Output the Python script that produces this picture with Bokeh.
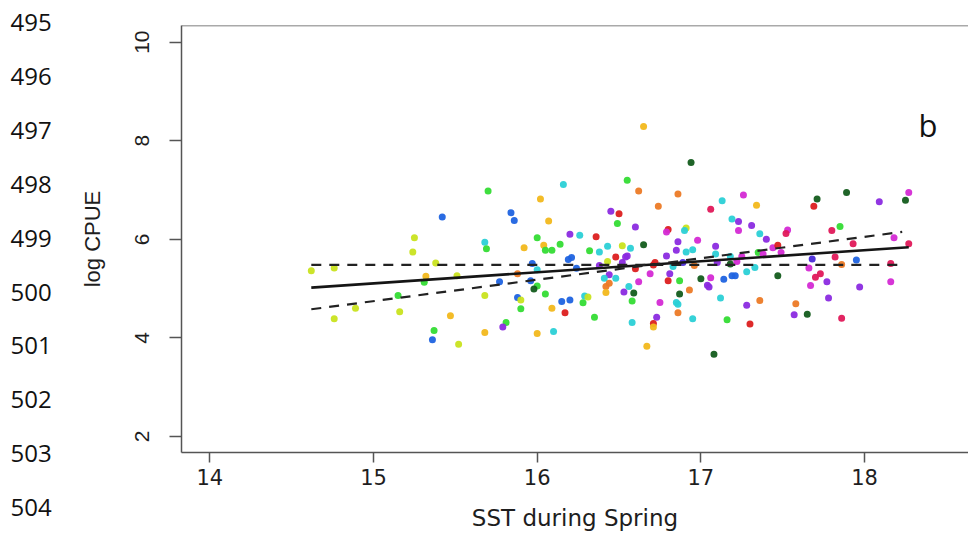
from bokeh.plotting import figure
from bokeh.layouts import row
from bokeh.models import Range1d, Label, Span, FixedTicker, ColumnDataSource
from bokeh.embed import file_html
from bokeh.resources import INLINE
from bokeh.core.properties import value

# ---------------- data ----------------
sst = [
    14.62, 14.76, 15.25, 15.24, 15.42, 15.38, 15.32, 15.31, 15.51, 15.15,
    14.89, 14.76, 15.16, 15.47, 15.37, 15.36, 15.52,
    15.70, 16.16, 16.02, 15.84, 15.86, 16.07, 16.45, 16.50, 16.49, 16.55,
    15.68, 15.69, 16.00, 15.92, 16.04, 16.05, 16.09, 16.14, 16.20, 16.26,
    16.36, 16.21, 16.19, 16.32, 16.38, 16.43, 16.52, 16.48, 16.43, 16.38,
    16.52, 16.54, 16.44, 16.41, 16.48, 16.44, 16.42, 16.42, 16.53, 15.97,
    15.88, 16.00, 15.77, 15.96, 16.00, 15.98, 16.24, 15.68, 15.88, 15.90,
    16.05, 15.90, 16.09, 16.15, 16.20, 16.29, 16.31, 16.28, 16.17, 16.35,
    15.81, 15.79, 15.68, 16.00, 16.10,
    16.65, 16.94, 16.62, 16.86, 16.74, 17.13, 17.26, 17.34, 17.06, 16.60,
    17.19, 17.23, 17.31, 17.23, 17.36, 17.40, 16.80, 16.79, 16.91, 16.90,
    16.57, 16.65, 16.86, 16.98, 16.85, 16.91, 16.95, 16.55, 16.79, 17.09,
    17.09, 17.18, 16.60, 16.72, 16.71, 16.83, 16.89, 16.96, 17.10, 17.18,
    17.35, 17.38, 17.44, 17.47, 17.49, 17.25, 17.22, 17.53, 17.52, 16.69,
    16.81, 16.80, 16.87, 17.00, 17.06, 17.04, 17.05, 17.14, 17.19, 17.21,
    17.28, 17.33, 17.47, 16.62, 16.56, 16.59, 16.58, 16.75, 16.87, 16.93,
    16.85, 16.86, 17.12, 17.28, 17.36, 16.73, 16.86, 16.95, 17.16, 16.58,
    16.71, 16.71, 17.30, 16.67, 17.08,
    17.71, 17.89, 17.69, 18.09, 18.27, 18.25, 17.80, 17.85, 17.93, 18.18,
    18.27, 17.68, 17.82, 17.95, 17.86, 18.16, 17.66, 17.73, 17.70, 17.77,
    17.67, 17.97, 18.16, 17.78, 17.58, 17.57, 17.65, 17.86,
]
log_cpue = [
    5.36, 5.42, 6.03, 5.74, 6.45, 5.52, 5.25, 5.13, 5.26, 4.86,
    4.60, 4.39, 4.53, 4.45, 4.15, 3.96, 3.87,
    6.98, 7.11, 6.82, 6.54, 6.38, 6.37, 6.57, 6.52, 6.32, 7.20,
    5.94, 5.81, 6.03, 5.83, 5.88, 5.78, 5.78, 5.90, 6.10, 6.08,
    6.05, 5.63, 5.59, 5.77, 5.74, 5.86, 5.87, 5.64, 5.55, 5.47,
    5.53, 5.64, 5.28, 5.21, 5.21, 5.11, 5.04, 4.92, 4.93, 5.51,
    5.30, 5.38, 5.14, 5.16, 5.05, 4.99, 5.41, 4.86, 4.82, 4.77,
    4.89, 4.59, 4.60, 4.74, 4.77, 4.85, 4.83, 4.71, 4.51, 4.42,
    4.31, 4.22, 4.11, 4.09, 4.13,
    8.29, 7.56, 6.98, 6.92, 6.67, 6.78, 6.90, 6.69, 6.61, 6.25,
    6.41, 6.36, 6.28, 6.18, 6.11, 6.00, 6.20, 6.15, 6.23, 6.18,
    5.82, 5.89, 5.95, 5.98, 5.78, 5.74, 5.79, 5.66, 5.66, 5.86,
    5.70, 5.65, 5.40, 5.53, 5.48, 5.45, 5.53, 5.47, 5.53, 5.50,
    5.73, 5.70, 5.83, 5.88, 5.73, 5.65, 5.55, 6.19, 6.12, 5.30,
    5.30, 5.16, 5.16, 5.20, 5.22, 5.07, 5.03, 5.19, 5.26, 5.26,
    5.34, 5.43, 5.26, 5.14, 5.04, 4.91, 4.75, 4.72, 4.89, 4.97,
    4.72, 4.68, 4.81, 4.66, 4.76, 4.42, 4.51, 4.39, 4.37, 4.31,
    4.29, 4.22, 4.28, 3.83, 3.67,
    6.82, 6.95, 6.67, 6.76, 6.95, 6.79, 6.18, 6.26, 5.91, 6.03,
    5.91, 5.60, 5.64, 5.58, 5.49, 5.51, 5.42, 5.30, 5.23, 5.14,
    5.06, 5.03, 5.14, 4.81, 4.69, 4.47, 4.48, 4.40,
]
group = [
    "YG", "YG", "YG", "YG", "BL", "YG", "GD", "GR", "YG", "GR",
    "YG", "YG", "YG", "GD", "GR", "BL", "YG",
    "GR", "CY", "GD", "BL", "BL", "GD", "PU", "RD", "GR", "GR",
    "CY", "GR", "GR", "GD", "GD", "GR", "GR", "GR", "PU", "CY",
    "RD", "BL", "BL", "GR", "CY", "CY", "YG", "RD", "YG", "PU",
    "PU", "PU", "PU", "CY", "CY", "OR", "OR", "GD", "PU", "BL",
    "OR", "CY", "BL", "BL", "GR", "DG", "BL", "YG", "BL", "YG",
    "GR", "GR", "GD", "BL", "BL", "CY", "YG", "GR", "RD", "GR",
    "GR", "PU", "GD", "GD", "CY",
    "GD", "DG", "OR", "OR", "OR", "CY", "MG", "GD", "CR", "PU",
    "CY", "PU", "PU", "MG", "CY", "PU", "RD", "MG", "YG", "CY",
    "CY", "DG", "PU", "MG", "PU", "CY", "CY", "PU", "PU", "PU",
    "CY", "CY", "RD", "RD", "RD", "CY", "IN", "OR", "PU", "DG",
    "GR", "MG", "MG", "RD", "MG", "MG", "MG", "MG", "CR", "MG",
    "PU", "RD", "GR", "DG", "MG", "PU", "PU", "BL", "BL", "BL",
    "CY", "CY", "DG", "MG", "CY", "DG", "GR", "MG", "DG", "OR",
    "CY", "CY", "CY", "PU", "OR", "PU", "OR", "CY", "GR", "CY",
    "RD", "GD", "RD", "GD", "DG",
    "DG", "DG", "RD", "PU", "MG", "DG", "CR", "GR", "CR", "MG",
    "CR", "IN", "CR", "BL", "OR", "CR", "MG", "CR", "CR", "PU",
    "MG", "PU", "MG", "PU", "OR", "PU", "DG", "CR",
]
palette = {
    "YG": "#c9e31f", "GD": "#f2b81c", "OR": "#ec7a26", "GR": "#34dc34",
    "BL": "#1f63e0", "CY": "#2bd0d6", "PU": "#8b2be0", "IN": "#4a2ad8",
    "RD": "#dc1f1f", "CR": "#e0195a", "MG": "#d42ad4", "DG": "#135c1c",
}

# regression line and confidence lines (end points)
fit_x = [14.62, 18.27]
fit_y = [5.02, 5.84]
band_x = [14.62, 18.23]
band_flat = [5.48, 5.48]
band_rise = [4.58, 6.15]

x_ticks = [14, 15, 16, 17, 18]
y_ticks = [2, 4, 6, 8, 10]
line_numbers = ["495", "496", "497", "498", "499", "500", "501", "502", "503", "504"]
panel_tag = "b"

# ---------------- layout ----------------
TOTAL_W, H = 968, 533
LW = 60                      # strip holding the manuscript line numbers
W = TOTAL_W - LW             # main figure width
FL, FT, FB = 121, 25, 80     # main figure borders
x0, x1 = 13.827, 18.635
y0, y1 = 1.674, 10.338

def px2x(px):
    return x0 + (px - LW - FL) * (x1 - x0) / (W - FL)

def py2y(py):
    return y1 - (py - FT) * (y1 - y0) / (H - FT - FB)

# --- left strip with line numbers (pixel coordinates, y downwards) ---
left = figure(width=LW, height=H, output_backend="svg", toolbar_location=None,
              x_range=Range1d(0, LW), y_range=Range1d(H, 0),
              x_axis_type=None, y_axis_type=None,
              min_border_left=0, min_border_right=0, min_border_top=0,
              min_border_bottom=0)
left.frame_align = False
left.outline_line_color = None
left.xgrid.visible = False
left.ygrid.visible = False
left.text(x=[10] * len(line_numbers),
          y=[20 + i * 53.9 + 2 for i in range(len(line_numbers))],
          text=line_numbers, text_font=value("Open Sans"), text_font_size="24px",
          text_color="#111111", text_align="left", text_baseline="middle")

# --- main plot ---
p = figure(width=W, height=H, output_backend="svg", toolbar_location=None,
           x_range=Range1d(x0, x1), y_range=Range1d(y0, y1),
           min_border_left=FL, min_border_right=0, min_border_top=FT,
           min_border_bottom=FB)
p.frame_align = False
p.outline_line_color = None
p.xgrid.visible = False
p.ygrid.visible = False
p.background_fill_color = "white"
p.border_fill_color = "white"

axis_col = "#555555"
text_col = "#1e1e1e"

xa = p.xaxis[0]
xa.ticker = FixedTicker(ticks=x_ticks)
xa.axis_line_color = axis_col
xa.axis_line_width = 1.5
xa.major_tick_line_color = axis_col
xa.major_tick_line_width = 1.5
xa.major_tick_out = 10
xa.major_tick_in = 0
xa.minor_tick_line_color = None
xa.major_label_text_font = "DejaVu Sans"
xa.major_label_text_font_size = "21px"
xa.major_label_text_color = text_col
xa.major_label_standoff = 6
xa.axis_label = "SST during Spring"
xa.axis_label_text_font = "DejaVu Sans"
xa.axis_label_text_font_size = "23px"
xa.axis_label_text_font_style = "normal"
xa.axis_label_text_color = text_col
xa.axis_label_standoff = 17

ya = p.yaxis[0]
ya.ticker = FixedTicker(ticks=y_ticks)
ya.axis_line_color = axis_col
ya.axis_line_width = 1.5
ya.major_tick_line_color = axis_col
ya.major_tick_line_width = 1.5
ya.major_tick_out = 12
ya.major_tick_in = 0
ya.minor_tick_line_color = None
ya.major_label_orientation = "vertical"
ya.major_label_text_font = "Liberation Sans"
ya.major_label_text_font_size = "21px"
ya.major_label_text_color = text_col
ya.major_label_standoff = 20
ya.axis_label = "log CPUE"
ya.axis_label_text_font = "Liberation Sans"
ya.axis_label_text_font_size = "22px"
ya.axis_label_text_font_style = "normal"
ya.axis_label_text_color = text_col
ya.axis_label_standoff = 28

p.add_layout(Span(location=y1, dimension="width", line_color=axis_col, line_width=1.5))

src = ColumnDataSource(dict(x=sst, y=log_cpue, c=[palette[g] for g in group]))
p.scatter("x", "y", source=src, size=7, fill_color="c", line_color=None, fill_alpha=0.95)

p.line(fit_x, fit_y, line_color="#151515", line_width=2.6)
p.line(band_x, band_flat, line_color="#222222", line_width=2.2, line_dash="10 8")
p.line(band_x, band_rise, line_color="#222222", line_width=2.2, line_dash="10 8")

p.add_layout(Label(x=px2x(927.5), y=py2y(124.5), text=panel_tag,
                   text_font="Open Sans", text_font_size="31px",
                   text_color="#111111", text_align="center",
                   text_baseline="middle"))

layout = row(left, p, spacing=0)
open("out.html", "w").write(file_html(layout, INLINE))
